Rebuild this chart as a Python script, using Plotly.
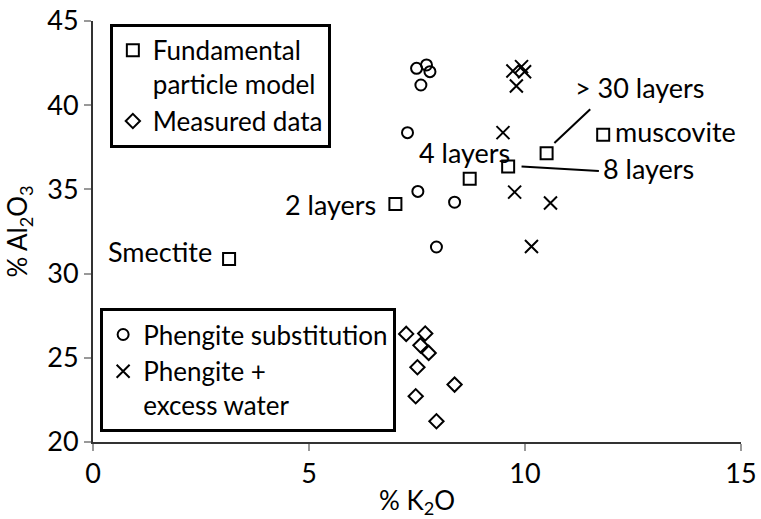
import plotly.graph_objects as go

# ---- data ----
model_k2o = [3.15, 7.00, 8.72, 9.61, 10.50, 11.81]
model_al2o3 = [30.87, 34.13, 35.63, 36.36, 37.15, 38.24]

measured_k2o = [7.25, 7.69, 7.58, 7.77, 7.51, 8.37, 7.47, 7.95]
measured_al2o3 = [26.42, 26.44, 25.74, 25.29, 24.44, 23.41, 22.72, 21.23]

phengite_k2o = [7.49, 7.72, 7.80, 7.59, 7.28, 7.52, 8.37, 7.95]
phengite_al2o3 = [42.19, 42.39, 41.99, 41.20, 38.37, 34.88, 34.24, 31.58]

water_k2o = [9.72, 9.92, 9.99, 9.80, 9.49, 9.76, 10.59, 10.15]
water_al2o3 = [42.03, 42.29, 41.99, 41.14, 38.37, 34.84, 34.19, 31.61]

x_ticks = [0, 5, 10, 15]
y_ticks = [20, 25, 30, 35, 40, 45]

# labels: (text, x, y, anchor)
point_labels = [
    ("Smectite", 2.79, 31.3, "right"),
    ("2 layers", 6.60, 34.09, "right"),
    ("4 layers", 7.49, 37.17, "left"),
    ("> 30 layers", 11.11, 41.03, "left"),
    ("muscovite", 12.03, 38.43, "left"),
    ("8 layers", 11.77, 36.26, "left"),
]
leader_lines = [
    (10.68, 37.75, 11.51, 39.76),
    (9.92, 36.36, 11.71, 36.10),
]

FONT = "Lato"
BLACK = "black"

fig = go.Figure()
fig.add_trace(go.Scatter(
    x=model_k2o, y=model_al2o3, mode="markers",
    name="Fundamental<br>particle model", legend="legend",
    marker=dict(symbol="square-open", size=12, color=BLACK, line=dict(width=2, color=BLACK)),
))
fig.add_trace(go.Scatter(
    x=measured_k2o, y=measured_al2o3, mode="markers",
    name="Measured data", legend="legend",
    marker=dict(symbol="diamond-open", size=11, color=BLACK, line=dict(width=2, color=BLACK)),
))
fig.add_trace(go.Scatter(
    x=phengite_k2o, y=phengite_al2o3, mode="markers",
    name="Phengite substitution", legend="legend2",
    marker=dict(symbol="circle-open", size=11, color=BLACK, line=dict(width=2, color=BLACK)),
))
fig.add_trace(go.Scatter(
    x=water_k2o, y=water_al2o3, mode="markers",
    name="Phengite +<br>excess water", legend="legend2",
    marker=dict(symbol="x-thin-open", size=13, color=BLACK, line=dict(width=2, color=BLACK)),
))

for text, x, y, anchor in point_labels:
    fig.add_annotation(x=x, y=y, xref="x", yref="y", text=text, showarrow=False,
                       xanchor=anchor, yanchor="middle",
                       font=dict(family=FONT, size=27, color=BLACK))

for x0, y0, x1, y1 in leader_lines:
    fig.add_shape(type="line", xref="x", yref="y", x0=x0, y0=y0, x1=x1, y1=y1,
                  line=dict(color=BLACK, width=2))

axis_common = dict(
    ticks="outside", ticklen=7, tickcolor="#999999", tickwidth=2,
    showline=True, linecolor="#333333", linewidth=2,
    showgrid=False, zeroline=False, automargin=False,
    tickfont=dict(family=FONT, size=27, color=BLACK),
)

legend_common = dict(
    bgcolor="white", bordercolor=BLACK, borderwidth=3,
    font=dict(family=FONT, size=26, color=BLACK),
    xanchor="left", yanchor="top", valign="top",
    itemwidth=30, tracegroupgap=0, traceorder="normal",
)

fig.update_layout(
    width=761, height=519,
    margin=dict(l=93, r=20, t=21, b=77, autoexpand=False),
    paper_bgcolor="white", plot_bgcolor="white",
    font=dict(family=FONT, size=27, color=BLACK),
    showlegend=True,
    legend=dict(x=0.026, y=0.993, **legend_common),
    legend2=dict(x=0.011, y=0.318, **legend_common),
    xaxis=dict(range=[0, 15], tickvals=x_ticks,
               title=dict(text="% K<sub>2</sub>O", font=dict(family=FONT, size=26, color=BLACK), standoff=8),
               **axis_common),
    yaxis=dict(range=[20, 45], tickvals=y_ticks,
               title=dict(text="% Al<sub>2</sub>O<sub>3</sub>", font=dict(family=FONT, size=26, color=BLACK), standoff=12),
               **axis_common),
)

fig.write_html("out.html")
